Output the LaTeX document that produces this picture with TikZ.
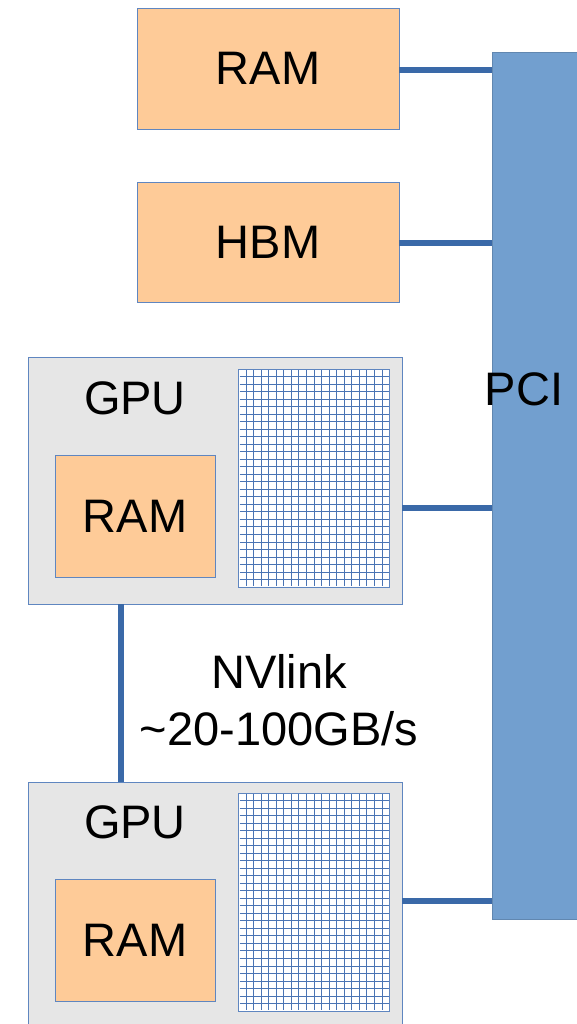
\documentclass[tikz,border=0pt]{standalone}
\usepackage{fontspec}
\setmainfont{Liberation Sans}
\usetikzlibrary{calc}
\definecolor{peach}{HTML}{FECB98}
\definecolor{pcifill}{HTML}{729FCF}
\definecolor{linkblue}{HTML}{3A69A8}
\definecolor{edgeblue}{HTML}{5F86C0}
\definecolor{gpugray}{HTML}{E6E6E6}
\definecolor{gridblue}{HTML}{4A74B4}
\begin{document}
\begin{tikzpicture}[x=1pt,y=-1pt,
  every node/.style={inner sep=0pt,outer sep=0pt,font=\fontsize{47}{57}\selectfont},
  membox/.style={draw=edgeblue,line width=0.8pt,fill=peach},
  gpubox/.style={draw=edgeblue,line width=0.8pt,fill=gpugray},
  gridbox/.style={draw=edgeblue,line width=1pt,fill=white,minimum width=151pt,minimum height=218pt},
  pcibox/.style={draw=pcifill!85!black,line width=0.6pt,fill=pcifill},
  link/.style={draw=linkblue,line width=6.5pt}]
\useasboundingbox (0,0) rectangle (577,1024);
\begin{scope}
\clip (0,0) rectangle (577,1024);
% PCI bar
\node[pcibox,minimum width=92pt,minimum height=867pt,anchor=north west] (pci) at (492,52) {};
\node at (524,389) (pcilabel) {PCI};
% RAM / HBM
\node[membox,minimum width=262pt,minimum height=121pt,anchor=north west] (ram) at (137,8) {};
\node at (ram.center) (ramlabel) {RAM};
\node[membox,minimum width=262pt,minimum height=120pt,anchor=north west] (hbm) at (137,182) {};
\node at (hbm.center) (hbmlabel) {HBM};
% GPU 1
\node[gpubox,minimum width=374pt,minimum height=247pt,anchor=north west] (gpuA) at (28,357) {};
\node at (135,398) (gpuAlabel) {GPU};
\node[membox,minimum width=160pt,minimum height=122pt,anchor=north west] (ramA) at (55,455) {};
\node at (ramA.center) (ramAlabel) {RAM};
\node[gridbox,anchor=north west] (gridA) at (238.5,369) {};
% GPU 2
\node[gpubox,minimum width=374pt,minimum height=260pt,anchor=north west] (gpuB) at (28,782) {};
\node at (135,822) (gpuBlabel) {GPU};
\node[membox,minimum width=160pt,minimum height=122pt,anchor=north west] (ramB) at (55,879) {};
\node at (ramB.center) (ramBlabel) {RAM};
\node[gridbox,anchor=north west] (gridB) at (238.5,793) {};
% grids
\foreach \g in {gridA,gridB}{
  \foreach \i in {1,...,19}{
    \draw[gridblue,line width=0.9pt] ($(\g.north west)+(\i*7.55,1)$) -- ($(\g.south west)+(\i*7.55,-1)$);
  }
  \foreach \j in {1,...,28}{
    \draw[gridblue,line width=0.9pt] ($(\g.north west)+(1,\j*7.52)$) -- ($(\g.north east)+(-1,\j*7.52)$);
  }
}
% connectors
\draw[link] (ram.east |- 0,70) -- (pci.west |- 0,70);
\draw[link] (hbm.east |- 0,243) -- (pci.west |- 0,243);
\draw[link] (gpuA.east |- 0,508) -- (pci.west |- 0,508);
\draw[link] (gpuB.east |- 0,901) -- (pci.west |- 0,901);
\draw[link,line width=6pt] (gpuA.south -| 121,0) -- (gpuB.north -| 121,0);
\node[align=center] (nvlabel) at (279,700) {NVlink\\\textasciitilde20-100GB/s};
\end{scope}
\end{tikzpicture}
\end{document}
